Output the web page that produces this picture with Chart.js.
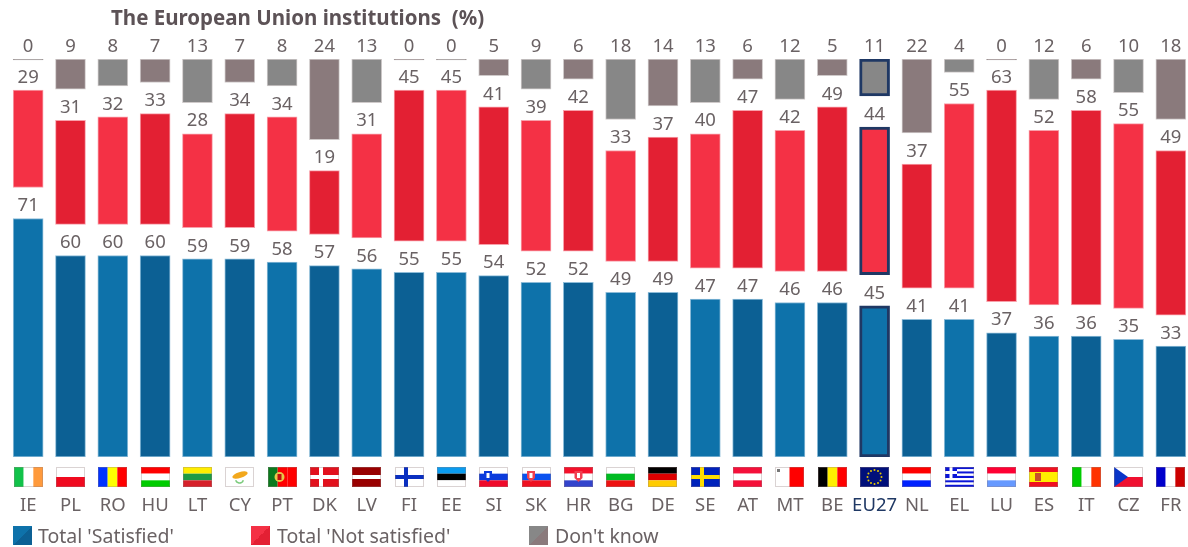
<!DOCTYPE html>
<html lang="en">
<head>
<meta charset="UTF-8">
<title>The European Union institutions (%)</title>
<script src="https://cdn.jsdelivr.net/npm/chart.js@4"></script>
<style>
    * { margin: 0; padding: 0; box-sizing: border-box; }
    html, body { width: 1188px; height: 547px; overflow: hidden; background: #fff; font-family: 'Noto Sans', sans-serif; }
    #chart { position: absolute; left: 0; top: 0; }
    .title { position: absolute; left: 111px; top: 3px; font-size: 20.5px; font-weight: 700; color: #5c5256; white-space: pre; }
    .legend-item { position: absolute; font-size: 19.5px; color: #6a6264; white-space: pre; line-height: 20px; }
    .swatch { position: absolute; width: 19px; height: 19px; }
</style>
</head>
<body>
<canvas id="chart" width="1192" height="547"></canvas>
<div class="title">The European Union institutions  (%)</div>

<div class="swatch" style="left:13px;top:526px;background:linear-gradient(to bottom right,#0e72aa 50%,#0c6094 50%)"></div>
<div class="legend-item" style="left:38px;top:526px">Total 'Satisfied'</div>
<div class="swatch" style="left:251px;top:526px;background:linear-gradient(to bottom right,#f43145 50%,#e32033 50%)"></div>
<div class="legend-item" style="left:277px;top:526px">Total 'Not satisfied'</div>
<div class="swatch" style="left:529px;top:526px;background:linear-gradient(to bottom right,#878787 50%,#8a7a7c 50%)"></div>
<div class="legend-item" style="left:555px;top:526px">Don't know</div>

<script>
const categories = ['IE','PL','RO','HU','LT','CY','PT','DK','LV','FI','EE','SI','SK','HR','BG','DE','SE','AT','MT','BE','EU27','NL','EL','LU','ES','IT','CZ','FR'];
const satisfied = [71,60,60,60,59,59,58,57,56,55,55,54,52,52,49,49,47,47,46,46,45,41,41,37,36,36,35,33];
const notSatisfied = [29,31,32,33,28,34,34,19,31,45,45,41,39,42,33,37,40,47,42,49,44,37,55,63,52,58,55,49];
const dontKnow = [0,9,8,7,13,7,8,24,13,0,0,5,9,6,18,14,13,6,12,5,11,22,4,0,12,6,10,18];

// empty room between the segments, holds the value labels
const GAP = 9.25;
const NAVY = '#1f3864';
const EU_INDEX = categories.indexOf('EU27');

// every other bar is a shade darker
const shade = (light, dark) => ctx => ctx.dataIndex % 2 === 0 ? light : dark;
const edge = pale => ctx => {
    if (ctx.dataIndex === EU_INDEX) return NAVY;
    // a zero is only a thin grey rule
    return ctx.raw === 0 ? '#a59c9c' : pale;
};
const edgeWidth = ctx => ctx.dataIndex === EU_INDEX ? 3 : 1;

function barSeries(label, data, light, dark, pale) {
    return {
        label, data,
        barThickness: 30,
        backgroundColor: shade(light, dark),
        borderColor: edge(pale),
        borderWidth: edgeWidth,
        borderSkipped: false
    };
}

function spacer(label) {
    return { label, data: categories.map(() => GAP), barThickness: 30, backgroundColor: 'transparent', borderWidth: 0, spacer: true };
}

// Flags
const flagStripes = {
    IE: ['v', '#12c24a', '#ffffff', '#ff9a3c'],
    PL: ['h', '#ffffff', '#f00a1f'],
    RO: ['v', '#0033ff', '#ffff00', '#ff0000'],
    HU: ['h', '#ff0000', '#ffffff', '#00cc00'],
    LT: ['h', '#ffed00', '#1e9a46', '#d6202a'],
    CY: ['h', '#ffffff'],
    PT: ['v', '#0a7a1e', '#ff0000', '#ff0000'],
    DK: ['h', '#e2111d'],
    LV: ['h', '#990000', '#990000', '#ffffff', '#990000', '#990000'],
    FI: ['h', '#ffffff'],
    EE: ['h', '#0a9bef', '#000000', '#ffffff'],
    SI: ['h', '#ffffff', '#0b3bdc', '#f00a2a'],
    SK: ['h', '#ffffff', '#0b52ef', '#ef1020'],
    HR: ['h', '#f5102a', '#ffffff', '#3344cc'],
    BG: ['h', '#ffffff', '#00bb22', '#ee1111'],
    DE: ['h', '#000000', '#dd0000', '#ffcc00'],
    SE: ['h', '#0022bb'],
    AT: ['h', '#f5103a', '#ffffff', '#f5103a'],
    MT: ['v', '#ffffff', '#ff0000'],
    BE: ['v', '#000000', '#ffee00', '#ff0000'],
    EU27: ['h', '#000f7a'],
    NL: ['h', '#ff0000', '#ffffff', '#0022ff'],
    EL: ['h', '#0a14d8', '#ffffff', '#0a14d8', '#ffffff', '#0a14d8', '#ffffff', '#0a14d8', '#ffffff', '#0a14d8'],
    LU: ['h', '#ff0033', '#ffffff', '#6699ff'],
    ES: ['h', '#f01020', '#ffee00', '#ffee00', '#f01020'],
    IT: ['v', '#00cc00', '#ffffff', '#ff3300'],
    CZ: ['h', '#ffffff', '#f01030'],
    FR: ['v', '#0000cc', '#ffffff', '#cc0000']
};

const FLAG_W = 29, FLAG_H = 20;

function drawCross(g, x, y, color) {
    g.fillStyle = color;
    g.fillRect(x + 9, y, 4, FLAG_H);
    g.fillRect(x, y + 8, FLAG_W, 4);
}

function drawDetails(g, code, x, y) {
    if (code === 'DK') drawCross(g, x, y, '#ffffff');
    if (code === 'FI') drawCross(g, x, y, '#0a2fc0');
    if (code === 'SE') drawCross(g, x, y, '#ffdd00');
    if (code === 'CY') {
        g.fillStyle = '#f2a81d';
        g.beginPath();
        g.ellipse(x + 15, y + 8, 8, 3, -0.3, 0, Math.PI * 2);
        g.fill();
        g.strokeStyle = '#7ccb7c';
        g.lineWidth = 1.5;
        g.beginPath();
        g.arc(x + 14.5, y + 12, 4, 0.3, Math.PI - 0.3);
        g.stroke();
    }
    if (code === 'PT') {
        g.fillStyle = '#e8c84a';
        g.beginPath();
        g.arc(x + 11.5, y + 10, 5, 0, Math.PI * 2);
        g.fill();
        g.fillStyle = '#c01010';
        g.fillRect(x + 9.5, y + 7, 4, 6);
    }
    if (code === 'SI' || code === 'SK' || code === 'HR') {
        const cx = code === 'HR' ? x + 14.5 : x + 9;
        g.fillStyle = code === 'SI' ? '#0b3bdc' : '#f04050';
        g.beginPath();
        g.moveTo(cx - 4, y + 4);
        g.lineTo(cx + 4, y + 4);
        g.lineTo(cx + 4, y + 11);
        g.lineTo(cx, y + 15);
        g.lineTo(cx - 4, y + 11);
        g.closePath();
        g.fill();
        g.fillStyle = '#ffffff';
        g.fillRect(cx - 1.5, y + 6, 3, 5);
    }
    if (code === 'MT') {
        g.fillStyle = '#777777';
        g.fillRect(x + 2, y + 2, 3, 3);
    }
    if (code === 'EU27') {
        g.fillStyle = '#e6c800';
        for (let i = 0; i < 12; i++) {
            const a = i * Math.PI / 6;
            g.beginPath();
            g.arc(x + 14.5 + Math.cos(a) * 7, y + 10 + Math.sin(a) * 7, 1, 0, Math.PI * 2);
            g.fill();
        }
    }
    if (code === 'EL') {
        g.fillStyle = '#0a14d8';
        g.fillRect(x, y, 12, 11);
        g.fillStyle = '#ffffff';
        g.fillRect(x + 4.5, y, 3, 11);
        g.fillRect(x, y + 4, 12, 3);
    }
    if (code === 'ES') {
        g.fillStyle = '#c8502a';
        g.fillRect(x + 6, y + 6, 6, 8);
    }
    if (code === 'CZ') {
        g.fillStyle = '#0a35c8';
        g.beginPath();
        g.moveTo(x, y);
        g.lineTo(x + 14, y + 10);
        g.lineTo(x, y + 20);
        g.closePath();
        g.fill();
    }
}

const flagsPlugin = {
    id: 'flags',
    afterDraw(chart) {
        const g = chart.ctx;
        const xScale = chart.scales.x;
        const top = chart.chartArea.bottom + 10;
        categories.forEach((code, i) => {
            const x = Math.round(xScale.getPixelForValue(i) - FLAG_W / 2);
            const [dir, ...colors] = flagStripes[code];
            g.save();
            colors.forEach((c, k) => {
                g.fillStyle = c;
                if (dir === 'h') {
                    g.fillRect(x, top + FLAG_H * k / colors.length, FLAG_W, FLAG_H / colors.length);
                } else {
                    g.fillRect(x + FLAG_W * k / colors.length, top, FLAG_W / colors.length, FLAG_H);
                }
            });
            drawDetails(g, code, x, top);
            g.strokeStyle = 'rgba(150,130,130,0.35)';
            g.lineWidth = 1;
            g.strokeRect(x + 0.5, top + 0.5, FLAG_W - 1, FLAG_H - 1);
            g.restore();
        });
    }
};

// Value labels above every segment
const valueLabels = {
    id: 'valueLabels',
    afterDatasetsDraw(chart) {
        const g = chart.ctx;
        g.save();
        g.font = "18.5px 'Noto Sans'";
        g.textAlign = 'center';
        g.textBaseline = 'middle';
        g.fillStyle = '#6a6264';
        chart.data.datasets.forEach((ds, d) => {
            if (ds.spacer) return;
            chart.getDatasetMeta(d).data.forEach((bar, i) => {
                // the top row sits on a fixed line, a zero bar's minimum length must not move it
                g.fillText(ds.data[i], bar.x, Math.max(bar.y, chart.chartArea.top) - 12.5);
            });
        });
        g.restore();
    }
};

new Chart(document.getElementById('chart'), {
    type: 'bar',
    data: {
        labels: categories,
        datasets: [
            barSeries("Total 'Satisfied'", satisfied, '#0e72aa', '#0c6094', '#8dbcd8'),
            spacer('gap1'),
            barSeries("Total 'Not satisfied'", notSatisfied, '#f43145', '#e32033', '#f8a0aa'),
            spacer('gap2'),
            { ...barSeries("Don't know", dontKnow, '#878787', '#8a7a7c', '#cfcaca'), minBarLength: 2 }
        ]
    },
    options: {
        responsive: false,
        animation: false,
        events: [],
        layout: { padding: { left: 7, top: 59, right: 0, bottom: 0 } },
        plugins: { legend: { display: false }, tooltip: { enabled: false } },
        scales: {
            x: {
                stacked: true,
                grid: { display: false },
                border: { display: false },
                afterFit(scale) {
                    scale.height = 90;
                    scale.paddingLeft = 0;
                    scale.paddingRight = 0;
                },
                ticks: {
                    autoSkip: false,
                    maxRotation: 0,
                    padding: 30,
                    color: ctx => ctx.index === EU_INDEX ? NAVY : '#6a6264',
                    font: { family: 'Noto Sans', size: 18.5 }
                }
            },
            y: {
                stacked: true,
                display: false,
                min: 0,
                max: 100 + 2 * GAP
            }
        }
    },
    plugins: [valueLabels, flagsPlugin]
});
</script>
</body>
</html>
